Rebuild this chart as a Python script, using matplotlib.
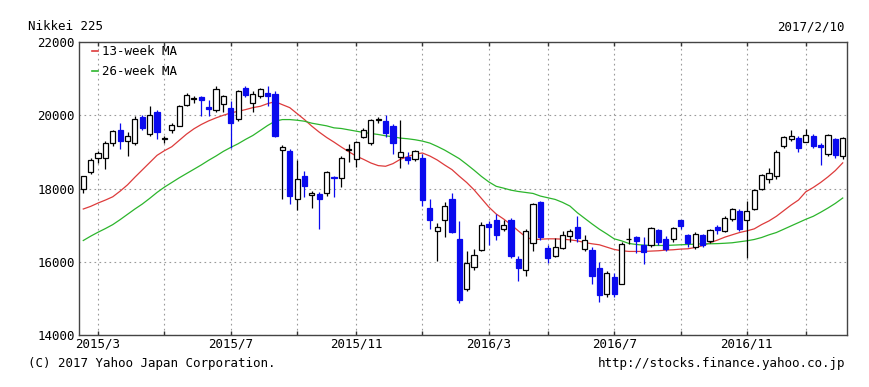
import matplotlib
matplotlib.use('Agg')
import matplotlib.pyplot as plt
import pandas as pd

# weekly candles, Friday of each week
weeks = pd.date_range('2015-02-20', '2017-02-10', freq='W-FRI')

opens = [17990, 18450, 18830, 18840, 19230, 19590, 19300, 19250, 19950, 19480,
         20080, 19340, 19610, 19720, 20290, 20450, 20500, 20220, 20140, 20320,
         20200, 19900, 20740, 20330, 20520, 20600, 20590, 19050, 19020, 17700,
         18340, 17820, 17850, 17890, 18320, 18300, 19040, 18800, 19400, 19230,
         19880, 19850, 19700, 18870, 18860, 18800, 18820, 17470, 16840, 17140,
         17710, 16627, 15250, 15860, 16330, 17030, 17140, 16900, 17140, 16080,
         15780, 16500, 17620, 16380, 16170, 16380, 16690, 16960, 16360, 16330,
         15840, 15130, 15590, 15390, 16620, 16670, 16450, 16450, 16870, 16630,
         16630, 17140, 16740, 16400, 16720, 16560, 16940, 16850, 17170, 17395,
         17140, 17440, 17980, 18250, 18340, 19160, 19360, 19390, 19280, 19430,
         19200, 18930, 19340, 18890]
highs = [18350, 18830, 19030, 19300, 19600, 19780, 19530, 19980, 20000, 20250,
         20140, 19420, 19780, 20280, 20600, 20530, 20530, 20430, 20800, 20560,
         20400, 20680, 20800, 20650, 20750, 20800, 20660, 19190, 19080, 18770,
         18480, 17930, 17900, 18480, 18350, 18900, 19210, 19300, 19650, 19900,
         19950, 20000, 19750, 19869, 19000, 19060, 18950, 17710, 17050, 17620,
         17870, 17124, 16300, 16360, 17090, 17100, 17300, 17130, 17200, 16150,
         16900, 17613, 17650, 16450, 16650, 16850, 16900, 17250, 16720, 16400,
         16000, 15750, 15680, 16550, 16920, 16700, 16670, 16950, 16900, 16700,
         16950, 17150, 16760, 16820, 16750, 16900, 17000, 17240, 17460, 17450,
         17650, 18000, 18400, 18560, 19050, 19440, 19590, 19440, 19620, 19480,
         19250, 19480, 19380, 19400]
lows = [17880, 18390, 18700, 18540, 19150, 19080, 18900, 19200, 19600, 19440,
        19340, 19250, 19520, 19700, 20250, 20340, 19990, 19990, 20100, 20100,
        19115, 19850, 20500, 20100, 20480, 20250, 19400, 17714, 17580, 17420,
        17760, 17480, 16900, 17800, 17770, 18050, 18710, 18580, 19380, 19200,
        19800, 19400, 18950, 18570, 18660, 18750, 17509, 16900, 16017, 16680,
        16780, 14865, 15200, 15770, 16300, 16450, 16590, 16850, 16090, 15471,
        15600, 16280, 16600, 15975, 16130, 16360, 16540, 16550, 16300, 15400,
        14900, 15050, 15040, 15380, 16490, 16250, 15950, 16400, 16450, 16300,
        16550, 16900, 16400, 16360, 16400, 16500, 16750, 16800, 17120, 16850,
        16111, 17400, 17950, 18150, 18250, 19100, 19300, 18990, 19270, 19100,
        18650, 18900, 18830, 18800]
closes = [18332, 18790, 18971, 19254, 19560, 19285, 19435, 19908, 19652, 20020,
          19531, 19379, 19732, 20264, 20563, 20461, 20407, 20174, 20706, 20539,
          19779, 20650, 20544, 20585, 20724, 20519, 19435, 19136, 17792, 18264,
          18070, 17880, 17725, 18438, 18291, 18825, 19083, 19265, 19596, 19879,
          19883, 19504, 19230, 18986, 18769, 19033, 17697, 17147, 16958, 17518,
          16819, 14952, 15967, 16188, 17014, 16938, 16724, 17002, 16164, 15821,
          16848, 17572, 16666, 16106, 16412, 16736, 16834, 16642, 16601, 15599,
          15100, 15682, 15106, 16497, 16627, 16569, 16254, 16919, 16545, 16360,
          16925, 16965, 16519, 16754, 16450, 16860, 16856, 17184, 17446, 16905,
          17374, 17968, 18381, 18426, 18996, 19401, 19428, 19114, 19454, 19150,
          19137, 19467, 18918, 19378]

# moving averages as drawn on the chart
ma13 = [17440, 17512, 17603, 17684, 17774, 17928, 18100, 18308, 18507, 18706,
        18905, 19032, 19140, 19312, 19484, 19629, 19747, 19846, 19928, 20000,
        20063, 20108, 20154, 20208, 20244, 20317, 20371, 20289, 20208, 20045,
        19882, 19701, 19539, 19394, 19267, 19132, 19005, 18887, 18797, 18697,
        18625, 18607, 18679, 18797, 18869, 18942, 18969, 18887, 18779, 18643,
        18516, 18335, 18164, 17964, 17729, 17494, 17304, 17168, 17015, 16843,
        16680, 16598, 16616, 16626, 16626, 16616, 16598, 16571, 16526, 16490,
        16463, 16399, 16336, 16300, 16282, 16282, 16282, 16291, 16300, 16318,
        16327, 16345, 16354, 16390, 16440, 16520, 16590, 16671, 16735, 16798,
        16843, 16898, 17015, 17115, 17241, 17395, 17549, 17685, 17911, 18028,
        18164, 18318, 18490, 18700]
ma26 = [16580, 16698, 16806, 16906, 17014, 17150, 17295, 17440, 17575, 17729,
        17892, 18037, 18163, 18290, 18408, 18525, 18643, 18770, 18887, 19014,
        19122, 19222, 19340, 19448, 19584, 19720, 19837, 19882, 19882, 19864,
        19837, 19783, 19747, 19711, 19656, 19638, 19602, 19566, 19530, 19502,
        19475, 19439, 19412, 19376, 19358, 19331, 19294, 19240, 19150, 19050,
        18933, 18815, 18661, 18500, 18330, 18180, 18060, 18010, 17955, 17919,
        17892, 17865, 17793, 17747, 17702, 17621, 17521, 17340, 17186, 17033,
        16888, 16761, 16626, 16571, 16499, 16472, 16454, 16445, 16445, 16445,
        16454, 16463, 16472, 16481, 16490, 16490, 16495, 16505, 16518, 16545,
        16572, 16608, 16662, 16735, 16798, 16888, 16979, 17069, 17160, 17241,
        17350, 17467, 17594, 17740]

y_ticks = [14000, 16000, 18000, 20000, 22000]
label_months = [3, 7, 11]

plt.rcParams['font.family'] = 'DejaVu Sans Mono'
plt.rcParams['font.size'] = 9

W, H = 870, 387
fig = plt.figure(figsize=(W / 100, H / 100), dpi=100)
ax = fig.add_axes([79 / W, 1 - 335 / H, (847 - 79) / W, (335 - 42) / H])

red = '#dd3b3b'
green = '#2cb52c'
blue = '#0a0aee'
x = list(range(len(weeks)))

# moving average lines behind the candles
ax.plot(x, ma13, color=red, lw=0.9, zorder=2)
ax.plot(x, ma26, color=green, lw=0.9, zorder=2)

# candles
edges = ['black' if c >= o else blue for o, c in zip(opens, closes)]
faces = ['white' if c >= o else blue for o, c in zip(opens, closes)]
bottoms = [min(o, c) for o, c in zip(opens, closes)]
heights = [max(abs(c - o), 12) for o, c in zip(opens, closes)]
ax.vlines(x, lows, highs, colors=edges, lw=0.9, zorder=3)
ax.bar(x, heights, bottom=bottoms, width=0.7, color=faces,
       edgecolor=edges, linewidth=0.9, zorder=4)

# x ticks at the first week (by Monday) of every odd month
mondays = weeks - pd.Timedelta(days=4)
tick_pos = []
tick_lab = []
for i in range(1, len(weeks)):
    m = mondays[i].month
    if m != mondays[i - 1].month and m % 2 == 1:
        tick_pos.append(i)
        tick_lab.append(f'{mondays[i].year}/{m}' if m in label_months else '')

ax.set_xlim(-0.58, 103.58)
ax.set_ylim(14000, 22000)
ax.set_xticks(tick_pos)
ax.set_xticklabels(tick_lab)
ax.set_yticks(y_ticks)
ax.set_yticklabels([str(v) for v in y_ticks])
ax.tick_params(direction='in', length=3, width=1, top=True, right=False,
               colors='#333333', labelcolor='black', pad=2)
ax.tick_params(axis='y', length=0, pad=3)
ax.grid(True, linestyle=(0, (1.5, 3)), color='#9a9a9a', lw=0.8, zorder=0)
for s in ax.spines.values():
    s.set_color('#444444')
    s.set_linewidth(1.0)

# legend: short coloured dash + label
ax.plot([0.017, 0.025], [0.968, 0.968], color=red, lw=1.2, transform=ax.transAxes, zorder=5)
ax.text(0.030, 0.968, '13-week MA', transform=ax.transAxes, va='center')
ax.plot([0.017, 0.025], [0.900, 0.900], color=green, lw=1.2, transform=ax.transAxes, zorder=5)
ax.text(0.030, 0.900, '26-week MA', transform=ax.transAxes, va='center')

fig.text(28 / W, 1 - 27 / H, 'Nikkei 225', va='center', ha='left')
fig.text(845 / W, 1 - 27 / H, weeks[-1].strftime('%Y/%-m/%-d'), va='center', ha='right')
fig.text(28 / W, 1 - 364 / H, '(C) 2017 Yahoo Japan Corporation.', va='center', ha='left')
fig.text(845 / W, 1 - 363 / H, 'http://stocks.finance.yahoo.co.jp', va='center', ha='right')

fig.savefig('out.png', dpi=100)
